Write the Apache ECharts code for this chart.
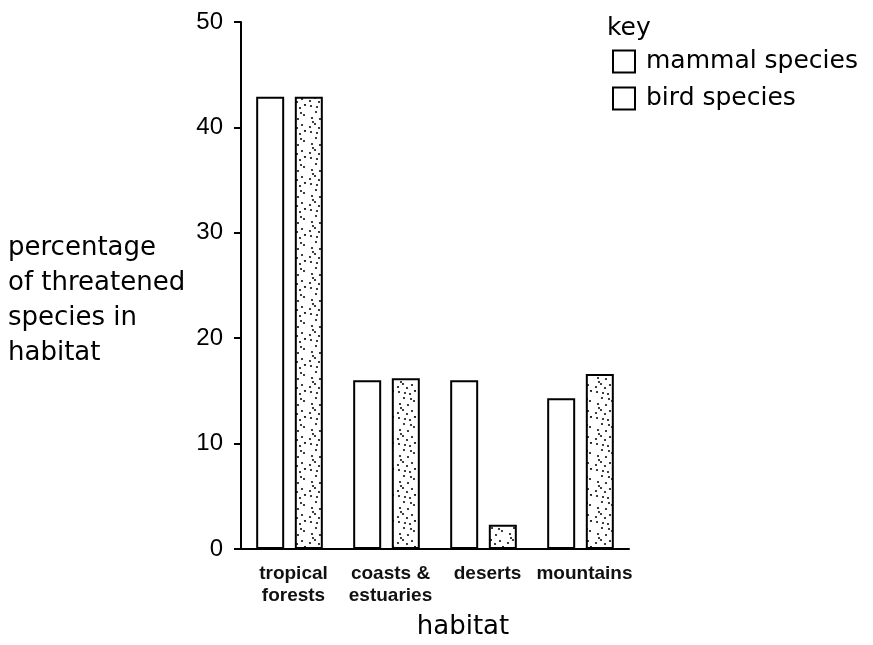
<!DOCTYPE html>
<html>
<head>
<meta charset="utf-8">
<script src="https://cdn.jsdelivr.net/npm/echarts@6/dist/echarts.min.js"></script>
<style>
html,body{margin:0;padding:0;background:#fff;}
#chart{width:873px;height:645px;}
</style>
</head>
<body>
<div id="chart"></div>
<script>
// ---- data ----
const categories = ['tropical\nforests', 'coasts &\nestuaries', 'deserts', 'mountains'];
const mammalSpecies = [42.9, 16.0, 16.0, 14.3];
const birdSpecies = [42.9, 16.2, 2.3, 16.6];
const yTicks = [0, 10, 20, 30, 40, 50];
const yTitleLines = ['percentage', 'of threatened', 'species in', 'habitat'];

// stipple texture for the bird bars (style only)
function makeStipple() {
  const c = document.createElement('canvas');
  c.width = 22; c.height = 26;
  const g = c.getContext('2d');
  g.fillStyle = '#fff';
  g.fillRect(0, 0, c.width, c.height);
  g.fillStyle = '#111';
  const dots = [[3,2],[14,4],[8,8],[18,11],[4,14],[12,15],[7,20],[16,21],[2,23],[11,24],[19,1],[9,3],[15,9],[5,18]];
  dots.forEach(d => { g.beginPath(); g.arc(d[0], d[1], 1.1, 0, Math.PI * 2); g.fill(); });
  return c;
}

const chart = echarts.init(document.getElementById('chart'));
const FONT = 'DejaVu Sans';

chart.setOption({
  backgroundColor: '#fff',
  animation: false,
  title: {
    text: 'key',
    left: 607, top: 16, padding: 0,
    textStyle: { fontFamily: FONT, fontSize: 25, fontWeight: 'normal', color: '#000' }
  },
  graphic: [{
    type: 'text',
    left: 8, top: 231,
    style: {
      text: yTitleLines.join('\n'),
      font: '26px "DejaVu Sans"',
      lineHeight: 35,
      fill: '#000'
    }
  }],
  legend: {
    orient: 'vertical',
    left: 607, top: 44,
    itemWidth: 22, itemHeight: 22, itemGap: 12,
    icon: 'rect',
    itemStyle: { color: '#fff', borderColor: '#000', borderWidth: 2 },
    textStyle: { fontFamily: FONT, fontSize: 25, color: '#000', padding: [0, 0, 0, 6] },
    data: [
      { name: 'mammal species', itemStyle: { color: '#fff' } },
      { name: 'bird species', itemStyle: { color: '#fff' } }
    ]
  },
  grid: { left: 241, right: 244, top: 22, bottom: 94, containLabel: false },
  xAxis: {
    type: 'category',
    data: categories,
    name: 'habitat',
    nameLocation: 'middle',
    nameGap: 78,
    nameTextStyle: { fontFamily: FONT, fontSize: 26, color: '#000', verticalAlign: 'middle', padding: [0, 0, 0, 56] },
    axisLine: { lineStyle: { color: '#000', width: 2 } },
    axisTick: { show: false },
    axisLabel: {
      fontFamily: 'Liberation Sans', fontWeight: 'bold', fontSize: 19, color: '#111',
      lineHeight: 22, margin: 14, interval: 0, padding: [0, 0, 0, 8]
    }
  },
  yAxis: {
    type: 'value',
    min: yTicks[0], max: yTicks[yTicks.length - 1], interval: 10,
    splitLine: { show: false },
    axisLine: { show: true, lineStyle: { color: '#000', width: 2 } },
    axisTick: { show: true, length: 7, lineStyle: { color: '#000', width: 2 } },
    axisLabel: { fontFamily: 'Liberation Sans', fontSize: 24, color: '#000', margin: 18 }
  },
  series: [
    {
      name: 'mammal species',
      type: 'bar',
      data: mammalSpecies,
      barWidth: 28,
      barGap: '38%',
      itemStyle: { color: '#fff', borderColor: '#000', borderWidth: 2 }
    },
    {
      name: 'bird species',
      type: 'bar',
      data: birdSpecies,
      barWidth: 28,
      itemStyle: { color: { image: makeStipple(), repeat: 'repeat' }, borderColor: '#000', borderWidth: 2 }
    }
  ]
});
</script>
</body>
</html>
